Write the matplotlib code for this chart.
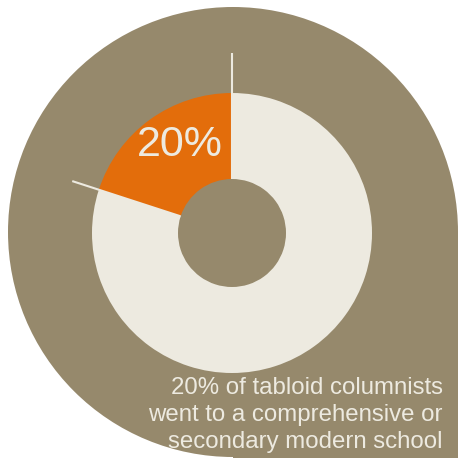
import numpy as np
import matplotlib
matplotlib.use("Agg")
import matplotlib.pyplot as plt
from matplotlib.patches import Circle, Rectangle

# Data
categories = ["Comprehensive or secondary modern", "Other"]
values = [20, 80]
big_label = "20%"
caption = "20% of tabloid columnists\nwent to a comprehensive or\nsecondary modern school"

OLIVE = "#96896C"
CREAM = "#EDEAE0"
ORANGE = "#E36D0B"

W = 458
fig = plt.figure(figsize=(4.58, 4.58), dpi=100)
ax = fig.add_axes([0, 0, 1, 1])

# teardrop background
cx, cy, r = 233, W - 232, 225
ax.add_patch(Circle((cx, cy), r, color=OLIVE, lw=0, zorder=0))
ax.add_patch(Rectangle((cx, 0), W - cx, cy, color=OLIVE, lw=0, zorder=0))

# donut
dcx, dcy = 232, W - 233
R, rin = 140, 54
ax.pie(values, colors=[ORANGE, CREAM], startangle=90, counterclock=True,
       radius=R, center=(dcx, dcy), wedgeprops=dict(width=R - rin, linewidth=0),
       frame=True)

# boundary ticks
total = sum(values)
bounds = [90, 90 + 360 * values[0] / total]
tick_len = [180, 168]
for a, L in zip(bounds, tick_len):
    t = np.deg2rad(a)
    ax.plot([dcx + rin * np.cos(t), dcx + L * np.cos(t)],
            [dcy + rin * np.sin(t), dcy + L * np.sin(t)],
            color=CREAM, lw=1.5, solid_capstyle="butt", zorder=5)

ax.text(223, W - 145, big_label, color=CREAM, fontsize=31, ha="right", va="center",
        family="Liberation Sans", zorder=6)
ax.text(443, W - 448, caption, color=CREAM, fontsize=17.3, ha="right", va="baseline",
        family="Liberation Sans", linespacing=1.3, multialignment="right", zorder=6)

ax.set_xlim(0, W)
ax.set_ylim(0, W)
ax.set_aspect("equal")
ax.set_axis_off()
fig.savefig("out.png", dpi=100, facecolor="white")
